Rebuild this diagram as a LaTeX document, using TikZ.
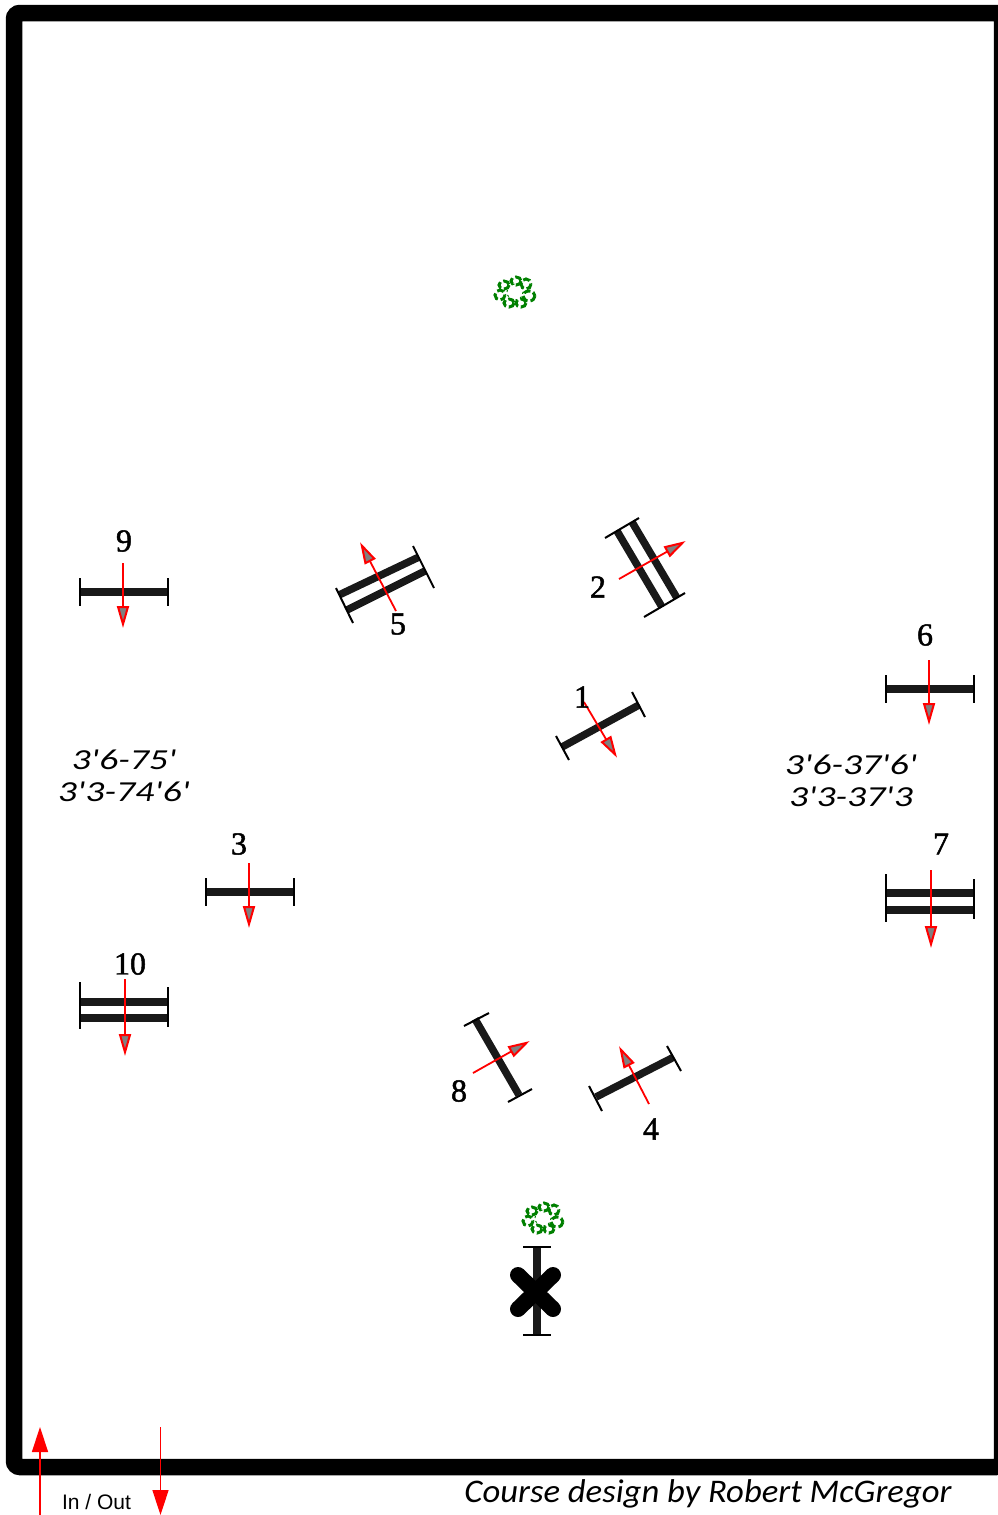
\documentclass[tikz,border=0pt]{standalone}
\usepackage{fontspec}
\usetikzlibrary{arrows.meta}
\newfontfamily\labelfont{Liberation Sans}
\newfontfamily\numfont[FakeBold=1.5]{Liberation Serif}
\newfontfamily\handfont[FakeStretch=1.3]{Carlito}
\newfontfamily\creditfont[FakeStretch=1.05]{Carlito}
\tikzset{
    rail/.style={line width=7.5pt, color=black!90},
    tick/.style={line width=2pt, color=black},
    lineflow/.style={line width=1.8pt, red, shorten >=-2pt, -{Triangle[length=22pt, width=12pt, fill=gray, line width=2pt]}},
    inout/.style={line width=1.5pt, red, -{Triangle[length=25pt, width=16pt, fill=red]}},
    num/.style={font=\numfont\fontsize{32}{36}\selectfont, inner sep=0pt},
    hand/.style={font=\handfont\fontsize{29}{32}\selectfont\itshape, inner sep=0pt},
    bushleaf/.style={line width=3pt, color=green!50!black, dash pattern=on 7pt off 3pt}
}
\newcommand{\bush}[2]{%
    \draw[bushleaf] (#1-11,#2-7) ellipse (5 and 4);
    \draw[bushleaf] (#1+1,#2-11) ellipse (5 and 4);
    \draw[bushleaf] (#1+11,#2-8) ellipse (5 and 5);
    \draw[bushleaf] (#1-15,#2+3) ellipse (5 and 5);
    \draw[bushleaf] (#1+14,#2+4) ellipse (6 and 5);
    \draw[bushleaf] (#1-6,#2+11) ellipse (5 and 4);
    \draw[bushleaf] (#1+6,#2+11) ellipse (5 and 4);
    \draw[bushleaf, line width=1pt, dash pattern=on 2pt off 3pt] (#1,#2) circle (8);
}
\begin{document}
\begin{tikzpicture}[x=1pt, y=-1pt]
    \useasboundingbox (0,0) rectangle (997,1515);

    % Arena
    \draw[line width=16.5pt, rounded corners=6pt] (14,13) rectangle (1002,1467);

    % Bushes
    \bush{515}{292}
    \bush{543}{1218}

    % Jump 1
    \draw[rail] (562,747) -- (639,705);
    \draw[tick] (556,736) -- (569,760);
    \draw[tick] (632,692) -- (645,717);
    \draw[lineflow] (584,702) -- (616,756);
    \node[num] (num1) at (582,697) {1};

    % Jump 2
    \draw[rail] (617,531) -- (662,607);
    \draw[rail] (632,522) -- (677,598);
    \draw[tick] (605,538) -- (639,518);
    \draw[tick] (644,617) -- (685,593);
    \draw[lineflow] (619,579) -- (684,542);
    \node[num] (num2) at (598,587) {2};

    % Jump 3
    \draw[rail] (206,892) -- (294,892);
    \draw[tick] (206,878) -- (206,906);
    \draw[tick] (294,878) -- (294,906);
    \draw[lineflow] (249,863) -- (249,926);
    \node[num] (num3) at (239,844) {3};

    % Jump 4
    \draw[rail] (596,1097) -- (674,1057);
    \draw[tick] (589,1086) -- (602,1111);
    \draw[tick] (667,1046) -- (681,1071);
    \draw[lineflow] (649,1104) -- (620,1048);
    \node[num] (num4) at (651,1129) {4};

    % Jump 5
    \draw[rail] (339,595) -- (419,557);
    \draw[rail] (347,610) -- (425,571);
    \draw[tick] (336,588) -- (353,623);
    \draw[tick] (413,546) -- (434,588);
    \draw[lineflow] (396,611) -- (361,544);
    \node[num] (num5) at (398,624) {5};

    % Jump 6
    \draw[rail] (886,689) -- (974,689);
    \draw[tick] (886,675) -- (886,703);
    \draw[tick] (974,675) -- (974,703);
    \draw[lineflow] (929,660) -- (929,723);
    \node[num] (num6) at (925,635) {6};

    % Jump 7
    \draw[rail] (886,893) -- (974,893);
    \draw[rail] (886,910) -- (974,910);
    \draw[tick] (886,874) -- (886,922);
    \draw[tick] (974,879) -- (974,919);
    \draw[lineflow] (931,870) -- (931,946);
    \node[num] (num7) at (941,844) {7};

    % Jump 8
    \draw[rail] (475,1019) -- (519,1095);
    \draw[tick] (464,1026) -- (489,1013);
    \draw[tick] (508,1102) -- (532,1089);
    \draw[lineflow] (473,1073) -- (528,1042);
    \node[num] (num8) at (459,1091) {8};

    % Jump 9
    \draw[rail] (80,592) -- (168,592);
    \draw[tick] (80,578) -- (80,606);
    \draw[tick] (168,578) -- (168,606);
    \draw[lineflow] (123,563) -- (123,626);
    \node[num] (num9) at (124,541) {9};

    % Jump 10
    \draw[rail] (80,1002) -- (168,1002);
    \draw[rail] (80,1018) -- (168,1018);
    \draw[tick] (80,982) -- (80,1029);
    \draw[tick] (168,987) -- (168,1027);
    \draw[lineflow] (125,979) -- (125,1054);
    \node[num] (num10) at (130,964) {10};

    % Start line
    \draw[rail] (537,1247) -- (537,1335);
    \draw[tick] (523,1247) -- (551,1247);
    \draw[tick] (523,1335) -- (551,1335);
    \draw[line width=16pt, line cap=round] (518,1275) -- (553,1309);
    \draw[line width=16pt, line cap=round] (518,1309) -- (553,1275);

    % Distances
    \node[hand] (distleft1) at (124,760) {3'6-75'};
    \node[hand] (distleft2) at (124,792) {3'3-74'6'};
    \node[hand] (distright1) at (851,765) {3'6-37'6'};
    \node[hand] (distright2) at (851,797) {3'3-37'3};

    % In and out
    \draw[inout] (40,1515) -- (40,1427);
    \draw[inout] (160.5,1427) -- (160.5,1515);
    \node[font=\labelfont\fontsize{21}{24}\selectfont, inner sep=0pt] (inout) at (96.5,1502) {In / Out};
    \node[font=\creditfont\fontsize{33}{38}\selectfont\itshape, inner sep=0pt] (credit) at (708,1494) {Course design by Robert McGregor};
\end{tikzpicture}
\end{document}
